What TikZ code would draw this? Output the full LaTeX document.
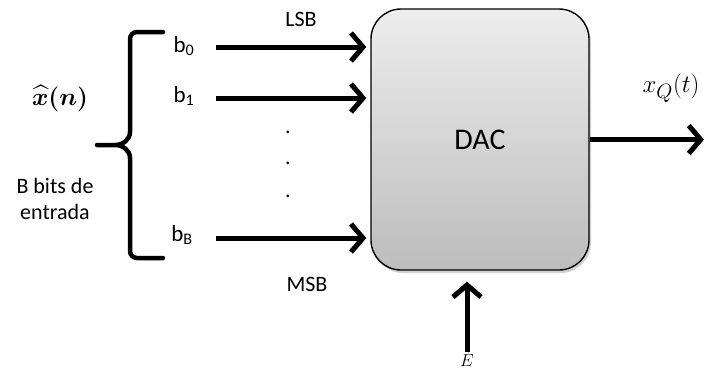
\documentclass[tikz,border=0pt]{standalone}
\usepackage{amsmath,amssymb}
\usepackage{fontspec}
\setmainfont{Carlito}
\usepackage{tikz}
\usetikzlibrary{arrows.meta,positioning,shadows}

\begin{document}
\begin{tikzpicture}[x=1pt, y=-1pt,
  block/.style={draw, line width=1.4pt, rounded corners=30pt, minimum width=218pt, minimum height=261pt,
    top color=gray!14, bottom color=gray!52, font=\fontsize{30}{34}\selectfont,
    drop shadow={shadow xshift=2pt, shadow yshift=-3pt, fill=gray!70}},
  sig/.style={line width=5pt, -{Straight Barb[length=12pt, width=28pt]},
    preaction={draw=gray!55, transform canvas={shift={(1.5pt,-2pt)}}}},
  lbl/.style={font=\fontsize{22}{26}\selectfont},
  bit/.style={font=\fontsize{23}{27}\selectfont},
  brace/.style={line width=4.5pt, line cap=round}
]
  \useasboundingbox (0,0) rectangle (707,372);

  % DAC block
  \node[block] (dac) at (480,139.5) {DAC};

  % input bits
  \coordinate (b0in) at (216,47);
  \coordinate (b1in) at (216,98);
  \coordinate (bBin) at (216,238);
  \node[bit] (b0) at (184,46) {b\textsubscript{0}};
  \node[bit] (b1) at (184,96) {b\textsubscript{1}};
  \node[bit] (bB) at (182,235) {b\textsubscript{B}};
  \node[lbl] (lsb) at (301,19) {LSB};
  \node[lbl] (msb) at (307,284) {MSB};
  \foreach \y [count=\i] in {133,164,197}
    \node[lbl, anchor=base] (dot\i) at (288,\y) {.};

  \draw[sig, shorten >=4pt] (b0in) -- (b0in -| dac.west);
  \draw[sig, shorten >=4pt] (b1in) -- (b1in -| dac.west);
  \draw[sig, shorten >=4pt] (bBin) -- (bBin -| dac.west);

  % brace and input signal
  \draw[brace] (163,32) -- (137,32) to[out=180,in=90] (130,39) -- (130,132)
    to[out=-90,in=0] (115,145) -- (97,145)
    (115,145) to[out=0,in=90] (130,158) -- (130,251) to[out=-90,in=180] (137,258) -- (163,258);
  \node[font=\fontsize{28}{32}\selectfont] (xn) at (60,98) {$\boldsymbol{\widehat{x}(n)}$};
  \node[lbl, align=center] (bits) at (55,199) {B bits de\\entrada};

  % output
  \coordinate (out) at (704,139.5);
  \draw[sig] (dac.east) -- (out);
  \node[font=\fontsize{30}{34}\selectfont] (xq) at (671,88) {$x_Q(t)$};

  % reference
  \node[font=\fontsize{17}{20}\selectfont] (E) at (467,361) {$E$};
  \draw[sig, shorten >=11pt] (E.north) -- (E.north |- dac.south);
\end{tikzpicture}
\end{document}
